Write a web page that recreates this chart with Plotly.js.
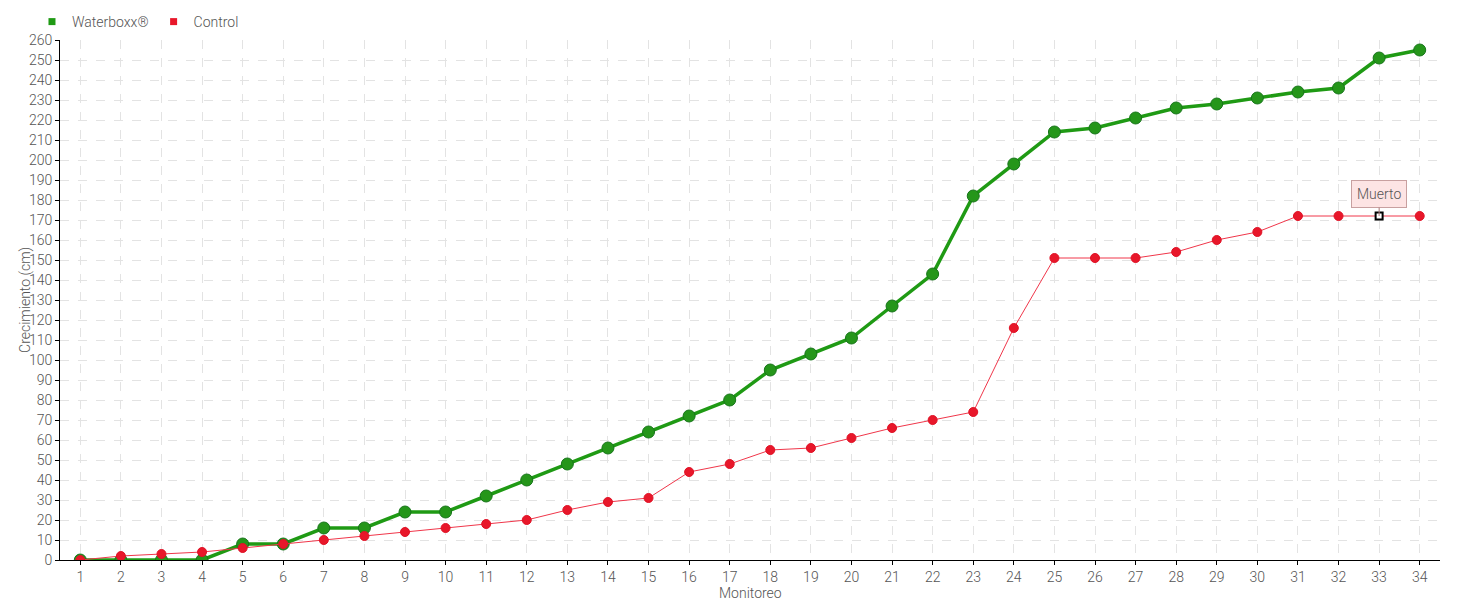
<!DOCTYPE html>
<html>
<head>
<meta charset="utf-8">
<script src="https://cdn.plot.ly/plotly-3.0.1.min.js"></script>
<style>html,body{margin:0;padding:0;background:#fff;}#chart{width:1460px;height:600px;}</style>
</head>
<body>
<div id="chart"></div>
<script>
const monitoreo = [1,2,3,4,5,6,7,8,9,10,11,12,13,14,15,16,17,18,19,20,21,22,23,24,25,26,27,28,29,30,31,32,33,34];
const waterboxx = [0,0,0,0,8,8,16,16,24,24,32,40,48,56,64,72,80,95,103,111,127,143,182,198,214,216,221,226,228,231,234,236,251,255];
const control = [0,2,3,4,6,8,10,12,14,16,18,20,25,29,31,44,48,55,56,61,66,70,74,116,151,151,151,154,160,164,172,172,172,172];
const seriesNames = ["Waterboxx®", "Control"];
const yTicks = [0,10,20,30,40,50,60,70,80,90,100,110,120,130,140,150,160,170,180,190,200,210,220,230,240,250,260];
const xTitle = "Monitoreo";
const yTitle = "Crecimiento (cm)";
const deadIndex = 32;
const deadLabel = "Muerto";

const FONT = "Roboto, 'Open Sans', sans-serif";
const green = "#1f9a14";
const red = "#e8172a";
const txt = "#555555";

const ctrlColors = control.map((v,i) => i === deadIndex ? "#ffffff" : red);
const ctrlLineColors = control.map((v,i) => i === deadIndex ? "#000000" : "#e01226");
const ctrlSizes = control.map((v,i) => i === deadIndex ? 7 : 9);
const ctrlLineWidths = control.map((v,i) => i === deadIndex ? 2 : 1);
const ctrlSymbols = control.map((v,i) => i === deadIndex ? "square" : "circle");

const traces = [
  {x: monitoreo, y: waterboxx, type: "scatter", mode: "lines+markers", showlegend: false,
   line: {color: green, width: 3.5},
   marker: {color: "#25961a", size: 12, line: {color: "#17751a", width: 1}}},
  {x: monitoreo, y: control, type: "scatter", mode: "lines+markers", showlegend: false,
   line: {color: "#f0364a", width: 1},
   marker: {color: ctrlColors, size: ctrlSizes, symbol: ctrlSymbols, opacity: 1, line: {color: ctrlLineColors, width: ctrlLineWidths}}},
  {x: [null], y: [null], type: "scatter", mode: "markers", name: seriesNames[0],
   marker: {color: green, symbol: "square", size: 7}},
  {x: [null], y: [null], type: "scatter", mode: "markers", name: seriesNames[1],
   marker: {color: red, symbol: "square", size: 7}}
];

const layout = {
  width: 1460, height: 600,
  margin: {l: 60, r: 20, t: 40, b: 40, autoexpand: false},
  paper_bgcolor: "#ffffff", plot_bgcolor: "#ffffff",
  font: {family: FONT, size: 14, color: txt, weight: 300},
  showlegend: true,
  legend: {orientation: "h", x: -0.0203, xref: "paper", y: 1.0346, yanchor: "middle", xanchor: "left",
           font: {family: FONT, size: 14, color: txt, weight: 300}, itemwidth: 30, tracegroupgap: 0,
           bgcolor: "rgba(0,0,0,0)"},
  xaxis: {
    range: [0.5, 34.5], tickmode: "array", tickvals: monitoreo, ticktext: monitoreo.map(String),
    showline: true, linecolor: "#000", linewidth: 1, ticks: "outside", ticklen: 4, tickcolor: "#000",
    showgrid: true, gridcolor: "#e3e3e3", griddash: "dash", gridwidth: 1, zeroline: false,
    tickfont: {family: FONT, size: 14, color: txt, weight: 300}
  },
  yaxis: {
    range: [0, 260], tickmode: "array", tickvals: yTicks,
    showline: true, linecolor: "#000", linewidth: 1, ticks: "outside", ticklen: 4, tickcolor: "#000",
    showgrid: true, gridcolor: "#e3e3e3", griddash: "dash", gridwidth: 1, zeroline: false,
    tickfont: {family: FONT, size: 14, color: txt, weight: 300}
  },
  annotations: [
    {x: monitoreo[deadIndex], y: control[deadIndex], xref: "x", yref: "y",
     text: deadLabel, showarrow: true, arrowhead: 0, arrowwidth: 1, arrowcolor: "#b08080",
     ax: 0, ay: -22, bgcolor: "#fde4e4", bordercolor: "#c8a0a0", borderwidth: 1, borderpad: 5,
     font: {family: FONT, size: 14, color: txt, weight: 300}},
    {x: 0.5, y: -0.044, xref: "paper", yref: "paper", text: xTitle, showarrow: false,
     xanchor: "center", yanchor: "top", font: {family: FONT, size: 14, color: txt, weight: 300}},
    {x: -0.0254, y: 0.5, xref: "paper", yref: "paper", text: yTitle, showarrow: false, textangle: -90,
     xanchor: "center", yanchor: "middle", font: {family: FONT, size: 14, color: txt, weight: 300}}
  ]
};

Plotly.newPlot("chart", traces, layout, {displayModeBar: false, staticPlot: true});
</script>
</body>
</html>
